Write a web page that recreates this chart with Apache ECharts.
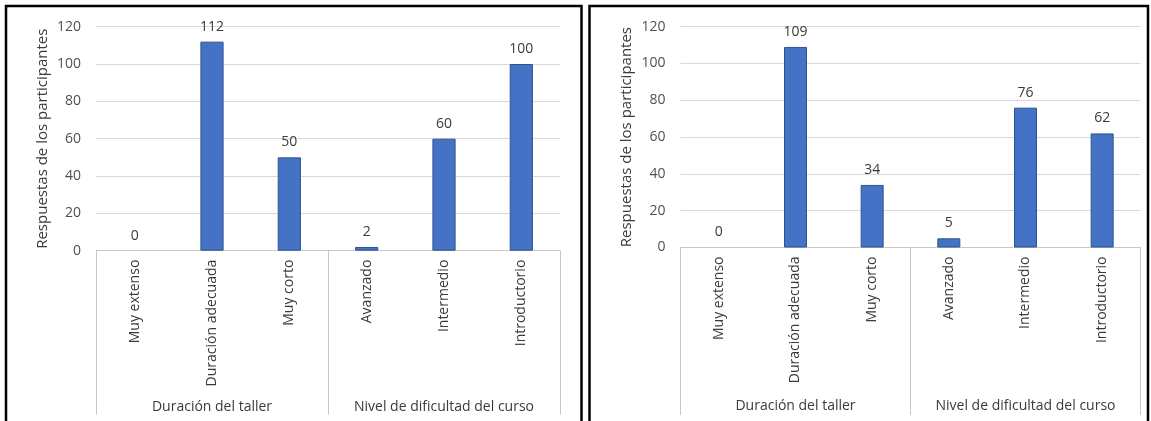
<!DOCTYPE html>
<html>
<head>
<meta charset="utf-8">
<script src="https://cdn.jsdelivr.net/npm/echarts@6/dist/echarts.min.js"></script>
<style>
  html, body { margin: 0; padding: 0; background: #ffffff; }
  #chart { width: 1151px; height: 421px; }
</style>
</head>
<body>
<div id="chart"></div>
<script>
// Survey answers: workshop length and course difficulty, two cohorts
const categories = ['Muy extenso', 'Duración adecuada', 'Muy corto', 'Avanzado', 'Intermedio', 'Introductorio'];
const groups = ['Duración del taller', 'Nivel de dificultad del curso'];
const valuesLeft = [0, 112, 50, 2, 60, 100];
const valuesRight = [0, 109, 34, 5, 76, 62];
const yMin = 0;
const yMax = 120;
const yStep = 20;
const yTitle = 'Respuestas de los participantes';

const FONT = '"Open Sans", "Noto Sans", sans-serif';
const GRID_LINE = '#d9d9d9';
const AXIS_LINE = '#c8c8c8';
const TEXT = '#3a3a3a';
const TICK_TEXT = '#505050';

// Layout of each panel (pixels)
const panels = [
  { grid: { left: 96, right: 1151 - 560, top: 26.7, bottom: 421 - 250.7 }, catMargin: 9, groupMargin: 149, tickLen: 164, values: valuesLeft },
  { grid: { left: 680.5, right: 1151 - 1140.5, top: 26.7, bottom: 421 - 247.5 }, catMargin: 9, groupMargin: 152, tickLen: 167.5, values: valuesRight }
];

// A zero answer leaves no visible bar, so drop its outline too
function barData(values) {
  return values.map(v => v === 0 ? { value: v, itemStyle: { borderWidth: 0 } } : v);
}

const option = {
  animation: false,
  backgroundColor: '#ffffff',
  textStyle: { fontFamily: FONT },
  grid: panels.map(p => Object.assign({ containLabel: false }, p.grid)),
  xAxis: [],
  yAxis: [],
  series: [],
  graphic: [
    { type: 'rect', silent: true, shape: { x: 6, y: 6, width: 575.5, height: 440 },
      style: { fill: 'none', stroke: '#000000', lineWidth: 2.5 } },
    { type: 'rect', silent: true, shape: { x: 589.5, y: 6, width: 558.5, height: 440 },
      style: { fill: 'none', stroke: '#000000', lineWidth: 2.5 } }
  ]
};

panels.forEach((p, i) => {
  // inner level: answer options
  option.xAxis.push({
    type: 'category',
    gridIndex: i,
    data: categories,
    position: 'bottom',
    axisLine: { show: true, lineStyle: { color: AXIS_LINE, width: 1 } },
    axisTick: { show: false },
    axisLabel: { interval: 0, rotate: 90, margin: p.catMargin, fontSize: 14, color: TEXT, fontFamily: FONT }
  });
  // outer level: question groups, with long separators
  option.xAxis.push({
    type: 'category',
    gridIndex: i,
    data: groups,
    position: 'bottom',
    axisLine: { show: false },
    axisTick: { show: true, interval: 0, alignWithLabel: false, length: p.tickLen, lineStyle: { color: AXIS_LINE, width: 1 } },
    axisLabel: { interval: 0, margin: p.groupMargin, fontSize: 14, color: TEXT, fontFamily: FONT }
  });
  option.yAxis.push({
    type: 'value',
    gridIndex: i,
    min: yMin,
    max: yMax,
    interval: yStep,
    name: yTitle,
    nameLocation: 'middle',
    nameGap: 46,
    nameTextStyle: { fontSize: 15, color: TEXT, fontFamily: FONT },
    axisLine: { show: false },
    axisTick: { show: false },
    axisLabel: { margin: 15, fontSize: 14, color: TICK_TEXT, fontFamily: FONT },
    splitLine: { show: true, lineStyle: { color: GRID_LINE, width: 1 } }
  });
  option.series.push({
    type: 'bar',
    xAxisIndex: i * 2,
    yAxisIndex: i,
    data: barData(p.values),
    barWidth: '30%',
    itemStyle: { color: '#4472C4', borderColor: '#2F528F', borderWidth: 1 },
    label: { show: true, position: 'top', distance: 8, fontSize: 14, color: TEXT, fontFamily: FONT }
  });
});

const chart = echarts.init(document.getElementById('chart'), null, { renderer: 'canvas' });
chart.setOption(option);
</script>
</body>
</html>
